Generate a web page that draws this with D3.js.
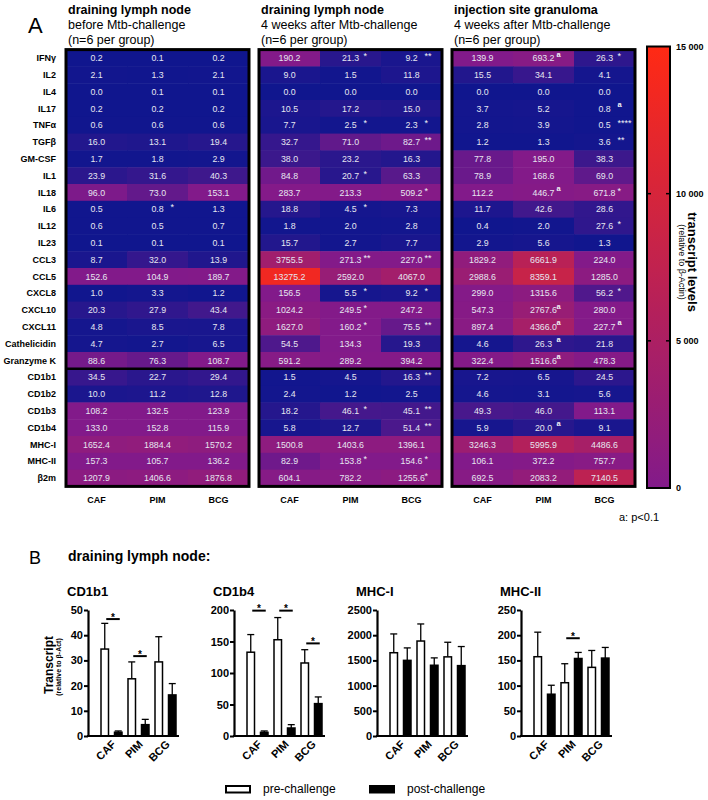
<!DOCTYPE html>
<html><head><meta charset="utf-8">
<script src="https://cdn.jsdelivr.net/npm/d3@7"></script>
<style>
body{margin:0;background:#fff}
svg{font-family:"Liberation Sans",Arial,Helvetica,sans-serif}
</style>
</head><body>
<svg id="chart" width="708" height="800"></svg>
<script>
// ---------------- DATA ----------------
const genes = ["IFNγ","IL2","IL4","IL17","TNFα","TGFβ","GM-CSF","IL1","IL18","IL6","IL12","IL23",
  "CCL3","CCL5","CXCL8","CXCL10","CXCL11","Cathelicidin","Granzyme K",
  "CD1b1","CD1b2","CD1b3","CD1b4","MHC-I","MHC-II","β2m"];
const groups = ["CAF","PIM","BCG"];

// draining lymph node, before challenge (CAF, PIM, BCG)
const dlnPre = [[0.2,0.1,0.2],[2.1,1.3,2.1],[0.0,0.1,0.1],[0.2,0.2,0.2],[0.6,0.6,0.6],[16.0,13.1,19.4],
  [1.7,1.8,2.9],[23.9,31.6,40.3],[96.0,73.0,153.1],[0.5,0.8,1.3],[0.6,0.5,0.7],[0.1,0.1,0.1],
  [8.7,32.0,13.9],[152.6,104.9,189.7],[1.0,3.3,1.2],[20.3,27.9,43.4],[4.8,8.5,7.8],[4.7,2.7,6.5],
  [88.6,76.3,108.7],[34.5,22.7,29.4],[10.0,11.2,12.8],[108.2,132.5,123.9],[133.0,152.8,115.9],
  [1652.4,1884.4,1570.2],[157.3,105.7,136.2],[1207.9,1406.6,1876.8]];
// draining lymph node, 4 weeks after challenge
const dlnPost = [[190.2,21.3,9.2],[9.0,1.5,11.8],[0.0,0.0,0.0],[10.5,17.2,15.0],[7.7,2.5,2.3],[32.7,71.0,82.7],
  [38.0,23.2,16.3],[84.8,20.7,63.3],[283.7,213.3,509.2],[18.8,4.5,7.3],[1.8,2.0,2.8],[15.7,2.7,7.7],
  [3755.5,271.3,227.0],[13275.2,2592.0,4067.0],[156.5,5.5,9.2],[1024.2,249.5,247.2],[1627.0,160.2,75.5],
  [54.5,134.3,19.3],[591.2,289.2,394.2],[1.5,4.5,16.3],[2.4,1.2,2.5],[18.2,46.1,45.1],[5.8,12.7,51.4],
  [1500.8,1403.6,1396.1],[82.9,153.8,154.6],[604.1,782.2,1255.6]];
// injection site granuloma, 4 weeks after challenge
const granuloma = [[139.9,693.2,26.3],[15.5,34.1,4.1],[0.0,0.0,0.0],[3.7,5.2,0.8],[2.8,3.9,0.5],[1.2,1.3,3.6],
  [77.8,195.0,38.3],[78.9,168.6,69.0],[112.2,446.7,671.8],[11.7,42.6,28.6],[0.4,2.0,27.6],[2.9,5.6,1.3],
  [1829.2,6661.9,224.0],[2988.6,8359.1,1285.0],[299.0,1315.6,56.2],[547.3,2767.6,280.0],[897.4,4366.0,227.7],
  [4.6,26.3,21.8],[322.4,1516.6,478.3],[7.2,6.5,24.5],[4.6,3.1,5.6],[49.3,46.0,113.1],[5.9,20.0,9.1],
  [3246.3,5995.9,4486.6],[106.1,372.2,757.7],[692.5,2083.2,7140.5]];

// significance marks [gene, group, mark]
const sigPre = [["IL6","PIM","*"]];
const sigPost = [["IFNγ","PIM","*"],["IFNγ","BCG","**"],["TNFα","PIM","*"],["TNFα","BCG","*"],["TGFβ","BCG","**"],
  ["IL1","PIM","*"],["IL18","BCG","*"],["IL6","PIM","*"],["CCL3","PIM","**"],["CCL3","BCG","**"],
  ["CXCL8","PIM","*"],["CXCL8","BCG","*"],["CXCL10","PIM","*"],["CXCL11","PIM","*"],["CXCL11","BCG","**"],
  ["CD1b1","BCG","**"],["CD1b3","PIM","*"],["CD1b3","BCG","**"],["CD1b4","BCG","**"],
  ["MHC-II","PIM","*"],["MHC-II","BCG","*"],["β2m","BCG","*"]];
const sigGran = [["IFNγ","PIM","a"],["IFNγ","BCG","*"],["IL17","BCG","a"],["TNFα","BCG","****"],["TGFβ","BCG","**"],
  ["IL18","PIM","a"],["IL18","BCG","*"],["IL12","BCG","*"],["CXCL8","BCG","*"],["CXCL10","PIM","a"],
  ["CXCL11","PIM","a"],["CXCL11","BCG","a"],["Cathelicidin","PIM","a"],["Granzyme K","PIM","a"],["CD1b4","PIM","a"]];

const panelTitles = [
  ["draining lymph node","before Mtb-challenge","(n=6 per group)"],
  ["draining lymph node","4 weeks after Mtb-challenge","(n=6 per group)"],
  ["injection site granuloma","4 weeks after Mtb-challenge","(n=6 per group)"]];

const colorDomain = [0, 100, 15000];
const cbTicks = [0, 5000, 10000, 15000];

// bar charts (panel B)
const barGenes = ["CD1b1","CD1b4","MHC-I","MHC-II"];
const barMax = [50, 200, 2500, 250];
const barStep = [10, 50, 500, 50];
const errPre = [[10.2,6.7,10.0],[28,35.2,21.1],[372.6,338.6,289.8],[48.7,37.7,33.5]];
const errPost = [[0.5,2.1,4.5],[2.2,5.3,10.6],[247.2,146.4,378.9],[17.8,12.0,21.1]];
const sigBars = [[["CAF",46.4],["PIM",31.7]],[["CAF",199],["PIM",199],["BCG",147]],[],[["PIM",194]]];
const conditions = ["pre","post"];
const legendLabels = ["pre-challenge","post-challenge"];

// ---------------- DRAW ----------------
const svg = d3.select("#chart");
const fmt = d3.format(".1f");
const color = d3.scaleLinear().domain(colorDomain).range(["#10168e","#821a8a","#ff2a14"]).clamp(true);

const y = d3.scaleBand().domain(genes).range([49.6, 49.6 + 26*16.8]);
const panelX = [66, 259, 452], panelW = 183;
const panels = [[dlnPre, sigPre],[dlnPost, sigPost],[granuloma, sigGran]];

svg.append("text").attr("x",28).attr("y",33).attr("font-size",22).text("A");

panels.forEach(([vals, sigs], pi) => {
  const x = d3.scaleBand().domain(groups).range([panelX[pi], panelX[pi]+panelW]);
  const g = svg.append("g");
  const cells = [];
  genes.forEach((gene,i) => groups.forEach((grp,j) => cells.push({gene, grp, v: vals[i][j]})));
  g.selectAll("rect.cell").data(cells).join("rect").attr("class","cell")
    .attr("x", d => x(d.grp)).attr("y", d => y(d.gene))
    .attr("width", x.bandwidth()+0.5).attr("height", y.bandwidth()+0.5)
    .attr("fill", d => color(d.v));
  g.selectAll("text.val").data(cells).join("text").attr("class","val")
    .attr("x", d => x(d.grp) + x.bandwidth()/2).attr("y", d => y(d.gene) + y.bandwidth()/2 + 3.2)
    .attr("text-anchor","middle").attr("font-size",8.8).attr("fill","#e6e6f0")
    .text(d => fmt(d.v));
  g.selectAll("text.sig").data(sigs).join("text").attr("class","sig")
    .attr("x", d => x(d[1]) + x.bandwidth()/2 + 13)
    .attr("y", d => y(d[0]) + y.bandwidth()/2 + (d[2]==="a" ? -1.5 : 1.2))
    .attr("font-size", d => d[2]==="a" ? 7.5 : 9).attr("font-weight", d => d[2]==="a" ? "bold" : "normal")
    .attr("fill","#f0f0f5").text(d => d[2]);
  const [y0, y1] = y.range();
  g.append("rect").attr("x", panelX[pi]).attr("y", y0).attr("width", panelW).attr("height", y1-y0)
    .attr("fill","none").attr("stroke","#000").attr("stroke-width",3);
  g.append("line").attr("x1", panelX[pi]).attr("x2", panelX[pi]+panelW)
    .attr("y1", y("CD1b1")).attr("y2", y("CD1b1")).attr("stroke","#000").attr("stroke-width",2.5);
  g.selectAll("text.col").data(groups).join("text").attr("class","col")
    .attr("x", d => x(d) + x.bandwidth()/2).attr("y", 503).attr("text-anchor","middle")
    .attr("font-size",9).attr("font-weight","bold").text(d => d);
  panelTitles[pi].forEach((t,k) => {
    g.append("text").attr("x", panelX[pi]+2).attr("y", 13.5 + k*15)
      .attr("font-size",12.5).attr("font-weight", k===0 ? "bold" : "normal").text(t);
  });
});
svg.selectAll("text.row").data(genes).join("text").attr("class","row")
  .attr("x",56).attr("y", d => y(d) + y.bandwidth()/2 + 3.2).attr("text-anchor","end")
  .attr("font-size",9).attr("font-weight","bold").text(d => d);

// colour bar
const cbY = d3.scaleLinear().domain([0,15000]).range([488,46.5]);
const grad = svg.append("defs").append("linearGradient").attr("id","cbgrad")
  .attr("x1",0).attr("x2",0).attr("y1",1).attr("y2",0);
d3.range(100, 15001, 1490).forEach(v => grad.append("stop")
  .attr("offset", (v-100)/14900).attr("stop-color", color(v)));
const cbX = 647, cbW = 23;
svg.append("rect").attr("x",cbX).attr("y",cbY(15000)).attr("width",cbW).attr("height",cbY(0)-cbY(15000))
  .attr("fill","url(#cbgrad)").attr("stroke","#000").attr("stroke-width",2);
cbTicks.forEach(t => {
  if (t>0 && t<15000) {
    svg.append("line").attr("x1",cbX).attr("x2",cbX+4).attr("y1",cbY(t)).attr("y2",cbY(t)).attr("stroke","#000").attr("stroke-width",1.5);
    svg.append("line").attr("x1",cbX+cbW-4).attr("x2",cbX+cbW).attr("y1",cbY(t)).attr("y2",cbY(t)).attr("stroke","#000").attr("stroke-width",1.5);
  }
  svg.append("text").attr("x",676).attr("y",cbY(t)+3.3).attr("font-size",9).attr("font-weight","bold")
    .text(d3.format(",")(t).replace(",", " "));
});
svg.append("text").attr("transform","translate(688,262) rotate(90)").attr("text-anchor","middle")
  .attr("font-size",13).attr("font-weight","bold").text("transcript levels");
svg.append("text").attr("transform","translate(679,262) rotate(90)").attr("text-anchor","middle")
  .attr("font-size",9).text("(relative to β-Actin)");
svg.append("text").attr("x",619).attr("y",521).attr("font-size",11).text("a: p<0.1");

// ---------------- PANEL B ----------------
svg.append("text").attr("x",29).attr("y",564).attr("font-size",18).text("B");
svg.append("text").attr("x",68).attr("y",561).attr("font-size",14).attr("font-weight","bold").text("draining lymph node:");

const axisXs = [88, 234, 377, 521];
barGenes.forEach((gene, ci) => {
  const gi = genes.indexOf(gene);
  const ax = axisXs[ci];
  const g = svg.append("g");
  const yS = d3.scaleLinear().domain([0, barMax[ci]]).range([736, 610]);
  const x0 = d3.scaleBand().domain(groups).range([ax+10, ax+91]);
  const x1 = d3.scaleBand().domain(conditions).range([0, x0.bandwidth()]).paddingInner(1/3).paddingOuter(1/6);
  const bars = [];
  groups.forEach((grp,j) => {
    bars.push({grp, c:"pre", v: dlnPre[gi][j], e: errPre[ci][j]});
    bars.push({grp, c:"post", v: dlnPost[gi][j], e: errPost[ci][j]});
  });
  const bx = d => x0(d.grp) + x1(d.c);
  g.selectAll("line.err").data(bars).join("line").attr("class","err")
    .attr("x1", d => bx(d)+x1.bandwidth()/2).attr("x2", d => bx(d)+x1.bandwidth()/2)
    .attr("y1", d => yS(d.v)).attr("y2", d => yS(d.v+d.e)).attr("stroke","#000").attr("stroke-width",1.3);
  g.selectAll("line.cap").data(bars).join("line").attr("class","cap")
    .attr("x1", d => bx(d)+x1.bandwidth()/2-3.5).attr("x2", d => bx(d)+x1.bandwidth()/2+3.5)
    .attr("y1", d => yS(d.v+d.e)).attr("y2", d => yS(d.v+d.e)).attr("stroke","#000").attr("stroke-width",1.3);
  g.selectAll("rect.bar").data(bars).join("rect").attr("class","bar")
    .attr("x", d => bx(d)+0.75).attr("y", d => yS(d.v))
    .attr("width", x1.bandwidth()-1.5).attr("height", d => yS(0)-yS(d.v))
    .attr("fill", d => d.c==="pre" ? "#fff" : "#000").attr("stroke","#000").attr("stroke-width",1.5);
  const yAxis = d3.axisLeft(yS).tickValues(d3.range(0, barMax[ci]+1, barStep[ci]))
    .tickFormat(d3.format("d")).tickSize(4).tickSizeOuter(0).tickPadding(1);
  const ya = g.append("g").attr("transform",`translate(${ax},0)`).call(yAxis);
  ya.select(".domain").attr("stroke-width",2.2);
  ya.selectAll(".tick line").attr("stroke-width",2);
  ya.selectAll(".tick text").attr("font-size",11).attr("font-weight","bold").attr("font-family",null);
  g.append("line").attr("x1",ax-1).attr("x2",ax+91).attr("y1",yS(0)).attr("y2",yS(0)).attr("stroke","#000").attr("stroke-width",2.2);
  g.selectAll("text.xl").data(groups).join("text").attr("class","xl")
    .attr("transform", d => `translate(${x0(d)+x0.bandwidth()/2+5},${yS(0)+9}) rotate(-45)`)
    .attr("text-anchor","end").attr("font-size",11).attr("font-weight","bold").text(d => d);
  g.append("text").attr("x",ax-21).attr("y",596).attr("font-size",13).attr("font-weight","bold").text(gene);
  sigBars[ci].forEach(([grp, v]) => {
    const xa = x0(grp) + x1("pre") + x1.bandwidth()/2 + 1.5;
    const xb = x0(grp) + x1("post") + x1.bandwidth()/2 + 1.5;
    g.append("line").attr("x1",xa).attr("x2",xb).attr("y1",yS(v)).attr("y2",yS(v)).attr("stroke","#000").attr("stroke-width",2);
    g.append("text").attr("x",(xa+xb)/2).attr("y",yS(v)+1.5).attr("text-anchor","middle").attr("font-size",10).attr("font-weight","bold").attr("fill","#000").text("*");
  });
});
svg.append("text").attr("transform","translate(53,665) rotate(-90)").attr("text-anchor","middle")
  .attr("font-size",12).attr("font-weight","bold").text("Transcript");
svg.append("text").attr("transform","translate(61,667) rotate(-90)").attr("text-anchor","middle")
  .attr("font-size",7).attr("font-weight","bold").text("(relative to β-Act)");

const legX = [225, 369];
conditions.forEach((c,i) => {
  svg.append("rect").attr("x",legX[i]+1).attr("y",786).attr("width",24).attr("height",6.5)
    .attr("fill", c==="pre" ? "#fff" : "#000").attr("stroke","#000").attr("stroke-width",2);
  svg.append("text").attr("x",legX[i]+38).attr("y",793).attr("font-size",12).text(legendLabels[i]);
});
</script>
</body></html>
